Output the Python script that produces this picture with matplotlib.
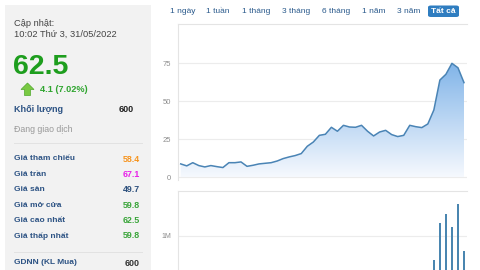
import numpy as np
import matplotlib
matplotlib.use('Agg')
import matplotlib.pyplot as plt
from matplotlib.patches import Rectangle, FancyBboxPatch, Polygon

plt.rcParams['font.family'] = ['Liberation Sans', 'DejaVu Sans']

# price history (all-time view)
price = [8.8, 7.5, 9.6, 7.7, 6.8, 7.7, 7.0, 6.4, 9.6, 9.6, 10.1, 7.2, 7.9, 8.8,
         9.2, 9.6, 10.7, 12.3, 13.4, 14.3, 15.6, 20.4, 23.2, 27.6, 28.3, 32.9,
         30.3, 34.2, 33.1, 32.9, 34.2, 30.3, 27.2, 29.8, 30.9, 28.1, 26.8, 27.6,
         34.2, 33.3, 32.7, 35.1, 44.3, 64.0, 67.8, 75.0, 72.1, 62.3]
vol_idx = [42, 43, 44, 45, 46, 47]
volume = [0.50, 1.26, 1.45, 1.18, 1.65, 0.69]  # millions

ranges = ['1 ngày', '1 tuần', '1 tháng', '3 tháng', '6 tháng', '1 năm', '3 năm', 'Tất cả']
range_x = [182.5, 218, 256, 296, 336, 373.7, 408.3, 443.3]

info_labels = ['Giá tham chiếu', 'Giá trần', 'Giá sàn', 'Giá mở cửa', 'Giá cao nhất', 'Giá thấp nhất']
info_values = ['58.4', '67.1', '49.7', '59.8', '62.5', '59.8']
info_colors = ['#f7941d', '#e821e8', '#2c4f7c', '#3aa53a', '#3aa53a', '#3aa53a']

W, H = 480, 270
fig = plt.figure(figsize=(4.8, 2.7), dpi=100)

def fx(p):
    return p / W

def fy(p):
    return 1 - p / H

label_col = '#2d5384'

# left info panel
fig.patches.append(Rectangle((fx(5), 0), fx(146), fy(5), transform=fig.transFigure,
                             facecolor='#f2f2f2', edgecolor='none', zorder=0))
fig.text(fx(14), fy(23), 'Cập nhật:', fontsize=6.7, color='#444444', va='center')
fig.text(fx(14), fy(34), '10:02 Thứ 3, 31/05/2022', fontsize=6.7, color='#444444', va='center')
fig.text(fx(13), fy(67), '62.5', fontsize=20.5, color='#1e9e1e', fontweight='bold', va='center')
arrow = Polygon([[fx(27.5), fy(83)], [fx(34), fy(89.5)], [fx(30.5), fy(89.5)],
                 [fx(30.5), fy(95.5)], [fx(24.5), fy(95.5)], [fx(24.5), fy(89.5)],
                 [fx(21), fy(89.5)]], closed=True, transform=fig.transFigure,
                facecolor='#7ac943', edgecolor='#4fa82a', lw=0.5)
fig.patches.append(arrow)
fig.text(fx(40), fy(90), '4.1 (7.02%)', fontsize=6.6, color='#2fa52f', fontweight='bold', va='center')
fig.text(fx(14), fy(110), 'Khối lượng', fontsize=6.5, color=label_col, fontweight='bold', va='center')
fig.text(fx(134), fy(110), '600', fontsize=6.5, color='#222222', fontweight='bold', va='center', ha='right')
fig.text(fx(14), fy(129), 'Đang giao dịch', fontsize=6.3, color='#999999', va='center')
fig.lines.append(plt.Line2D([fx(14), fx(142)], [fy(143), fy(143)], transform=fig.transFigure,
                            color='#e2e2e2', lw=0.7))
for i, (lab, val, col) in enumerate(zip(info_labels, info_values, info_colors)):
    yy = 159 + i * 15.4
    fig.text(fx(14), fy(yy), lab, fontsize=6.0, color=label_col, fontweight='bold', va='center')
    fig.text(fx(140), fy(yy), val, fontsize=6.4, color=col, fontweight='bold', va='center', ha='right')
fig.lines.append(plt.Line2D([fx(14), fx(142)], [fy(252), fy(252)], transform=fig.transFigure,
                            color='#e2e2e2', lw=0.7))
fig.text(fx(14), fy(263), 'GDNN (KL Mua)', fontsize=6.0, color=label_col, fontweight='bold', va='center')
fig.text(fx(140), fy(263), '600', fontsize=6.4, color='#333333', fontweight='bold', va='center', ha='right')

# range buttons
for lab, x in zip(ranges, range_x):
    if lab == 'Tất cả':
        fig.patches.append(FancyBboxPatch((fx(428), fy(17)), fx(31), 11.5 / H,
                                          boxstyle='round,pad=0,rounding_size=0.006',
                                          transform=fig.transFigure,
                                          facecolor='#2f7dc0', edgecolor='none'))
        fig.text(fx(x), fy(11.3), lab, fontsize=6, color='white', fontweight='bold',
                 ha='center', va='center')
    else:
        fig.text(fx(x), fy(11.3), lab, fontsize=6, color='#2a5a8c', ha='center', va='center')

# price panel
x = np.arange(len(price))
ax = fig.add_axes([fx(178), fy(180), fx(467 - 178), (180 - 24) / H])
ax.set_xlim(-0.45, 47.5)
ax.set_ylim(-1.8, 100.9)
grad = np.linspace(0, 1, 256).reshape(-1, 1)
img = ax.imshow(grad, extent=[-0.45, 47.5, 0, 76], origin='lower', aspect='auto',
                cmap=matplotlib.colors.LinearSegmentedColormap.from_list('g', ['#f6f9fe', '#7fb3e8']),
                zorder=1)
clip = Polygon(np.vstack([np.column_stack([x, price]), [[47, 0], [0, 0]]]), closed=True,
               transform=ax.transData, facecolor='none', edgecolor='none')
ax.add_patch(clip)
img.set_clip_path(clip)
ax.plot(x, price, color='#4a84b5', lw=1.1, zorder=3)
ax.set_yticks([0, 25, 50, 75])
ax.grid(axis='y', color='#ececec', lw=0.8, zorder=0)
ax.set_axisbelow(True)
ax.set_xticks([])
ax.tick_params(axis='y', length=0, labelsize=5.5, labelcolor='#8c8c8c', pad=5)
for s in ['right', 'bottom']:
    ax.spines[s].set_visible(False)
for s in ['top', 'left']:
    ax.spines[s].set_color('#e4e4e4')
    ax.spines[s].set_linewidth(0.8)

# volume panel
axv = fig.add_axes([fx(178), fy(285), fx(467 - 178), (285 - 190.7) / H])
axv.set_xlim(-0.45, 47.5)
axv.set_ylim(0, 1.92)
axv.bar(vol_idx, volume, width=0.42, color='#4a86b0', zorder=3)
axv.set_yticks([1])
axv.set_yticklabels(['1M'])
axv.grid(axis='y', color='#ececec', lw=0.8)
axv.set_axisbelow(True)
axv.set_xticks([])
axv.tick_params(axis='y', length=0, labelsize=5, labelcolor='#8c8c8c', pad=5)
for s in ['right', 'bottom']:
    axv.spines[s].set_visible(False)
for s in ['top', 'left']:
    axv.spines[s].set_color('#e4e4e4')
    axv.spines[s].set_linewidth(0.8)

fig.savefig('out.png', dpi=100)
